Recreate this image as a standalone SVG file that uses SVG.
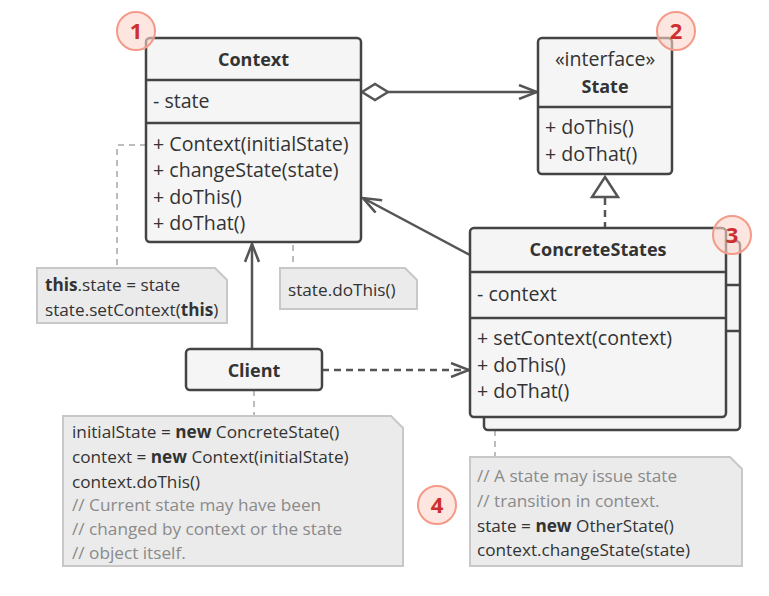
<svg xmlns="http://www.w3.org/2000/svg" width="769" height="596" viewBox="0 0 769 596">
  <style>
    text { font-family: "Open Sans", "Noto Sans", "Liberation Sans", sans-serif; fill: #333; }
    .box { fill: #f5f5f5; stroke: #444; stroke-width: 2.5; }
    .div { stroke: #444; stroke-width: 2.5; }
    .title { font-size: 18px; font-weight: bold; text-anchor: middle; }
    .member { font-size: 19.6px; }
    .note { fill: #ebebeb; stroke: #c8c8c8; stroke-width: 2; }
    .ntext { font-size: 17.2px; }
    .cmt { fill: #8a8a8a; }
    .b { font-weight: bold; }
    .link { stroke: #555; stroke-width: 2.5; fill: none; }
    .dash { stroke-dasharray: 7 5; }
    .ndash { stroke: #bcbcbc; stroke-width: 2; stroke-dasharray: 6 5; fill: none; }
    .badge circle { fill: #fbd3cb; fill-opacity: 0.6; stroke: #f39a88; stroke-width: 2; }
    .badge text { font-size: 22px; font-weight: bold; fill: #cf2e2e; text-anchor: middle; }
  </style>
  <defs>
    <marker id="open" viewBox="0 0 22 16" refX="20" refY="8" markerWidth="22" markerHeight="16" markerUnits="userSpaceOnUse" orient="auto">
      <path d="M2,1 L20,8 L2,15" fill="none" stroke="#555" stroke-width="2.5"/>
    </marker>
  </defs>

  <!-- dotted note links -->
  <g id="note-links">
    <path class="ndash" d="M146,145 H117 V268"/>
    <circle cx="258" cy="199" r="4" fill="none" stroke="#bcbcbc" stroke-width="2"/>
    <path class="ndash" d="M262,199 H293 V268"/>
    <path class="ndash" d="M254,390 V416"/>
    <path class="ndash" d="M495,430 V457"/>
  </g>

  <!-- connectors -->
  <g id="connectors">
    <path class="link" d="M388,92 H537" marker-end="url(#open)"/>
    <path d="M362,92 L375,84 L388,92 L375,100 Z" fill="#fff" stroke="#555" stroke-width="2.5"/>
    <path class="link dash" d="M605,229 V197"/>
    <path d="M605,177 L618,197 L592,197 Z" fill="#fff" stroke="#555" stroke-width="2.5"/>
    <path class="link" d="M470,255 L363,198" marker-end="url(#open)"/>
    <path class="link" d="M252,349 V244" marker-end="url(#open)"/>
    <path class="link dash" d="M322,370 H469" marker-end="url(#open)"/>
  </g>

  <g id="context">
    <rect class="box" x="146" y="38" width="215" height="204" rx="4"/>
    <line class="div" x1="146" y1="80" x2="361" y2="80"/>
    <line class="div" x1="146" y1="123" x2="361" y2="123"/>
    <text class="title" x="253.5" y="66">Context</text>
    <text class="member" x="153" y="108">- state</text>
    <text class="member" x="153" y="151">+ Context(initialState)</text>
    <text class="member" x="153" y="177">+ changeState(state)</text>
    <text class="member" x="153" y="204">+ doThis()</text>
    <text class="member" x="153" y="230">+ doThat()</text>
  </g>

  <g id="state">
    <rect class="box" x="538" y="38" width="134" height="136" rx="4"/>
    <line class="div" x1="538" y1="107" x2="672" y2="107"/>
    <text x="605" y="66" font-size="19.6" text-anchor="middle">«interface»</text>
    <text class="title" x="605" y="93">State</text>
    <text class="member" x="545" y="134">+ doThis()</text>
    <text class="member" x="545" y="161">+ doThat()</text>
  </g>

  <g id="concrete-states">
    <rect class="box" x="484" y="241" width="256" height="189" rx="4"/>
    <line class="div" x1="484" y1="285" x2="740" y2="285"/>
    <line class="div" x1="484" y1="331" x2="740" y2="331"/>
    <rect class="box" x="470" y="228" width="256" height="189" rx="4"/>
    <line class="div" x1="470" y1="272" x2="726" y2="272"/>
    <line class="div" x1="470" y1="318" x2="726" y2="318"/>
    <text class="title" x="598" y="256">ConcreteStates</text>
    <text class="member" x="477" y="301">- context</text>
    <text class="member" x="477" y="345">+ setContext(context)</text>
    <text class="member" x="477" y="372">+ doThis()</text>
    <text class="member" x="477" y="398">+ doThat()</text>
  </g>

  <g id="client">
    <rect class="box" x="186" y="349" width="136" height="41" rx="4"/>
    <text class="title" x="254" y="377">Client</text>
  </g>

  <g id="note-change-state">
    <path class="note" d="M37,268 H215 L227,280 V323 H37 Z"/>
    <text class="ntext" x="45" y="291"><tspan class="b">this</tspan>.state = state</text>
    <text class="ntext" x="45" y="316">state.setContext(<tspan class="b">this</tspan>)</text>
  </g>

  <g id="note-do-this">
    <path class="note" d="M280,268 H405 L417,280 V309 H280 Z"/>
    <text class="ntext" x="288" y="296">state.doThis()</text>
  </g>

  <g id="note-client">
    <path class="note" d="M63,416 H391 L403,428 V566 H63 Z"/>
    <text class="ntext" x="72" y="438">initialState = <tspan class="b">new</tspan> ConcreteState()</text>
    <text class="ntext" x="72" y="463">context = <tspan class="b">new</tspan> Context(initialState)</text>
    <text class="ntext" x="72" y="488">context.doThis()</text>
    <text class="ntext cmt" x="72" y="511">// Current state may have been</text>
    <text class="ntext cmt" x="72" y="535">// changed by context or the state</text>
    <text class="ntext cmt" x="72" y="559">// object itself.</text>
  </g>

  <g id="note-transition">
    <path class="note" d="M470,457 H730 L742,469 V566 H470 Z"/>
    <text class="ntext cmt" x="477" y="482">// A state may issue state</text>
    <text class="ntext cmt" x="477" y="507">// transition in context.</text>
    <text class="ntext" x="477" y="532">state = <tspan class="b">new</tspan> OtherState()</text>
    <text class="ntext" x="477" y="556">context.changeState(state)</text>
  </g>

  <g id="badge-1" class="badge"><circle cx="136" cy="31" r="19"/><text x="136" y="39">1</text></g>
  <g id="badge-2" class="badge"><circle cx="676" cy="31" r="19"/><text x="676" y="39">2</text></g>
  <g id="badge-3" class="badge"><circle cx="732" cy="235" r="19"/><text x="732" y="243">3</text></g>
  <g id="badge-4" class="badge"><circle cx="437" cy="505" r="19"/><text x="437" y="513">4</text></g>
</svg>
